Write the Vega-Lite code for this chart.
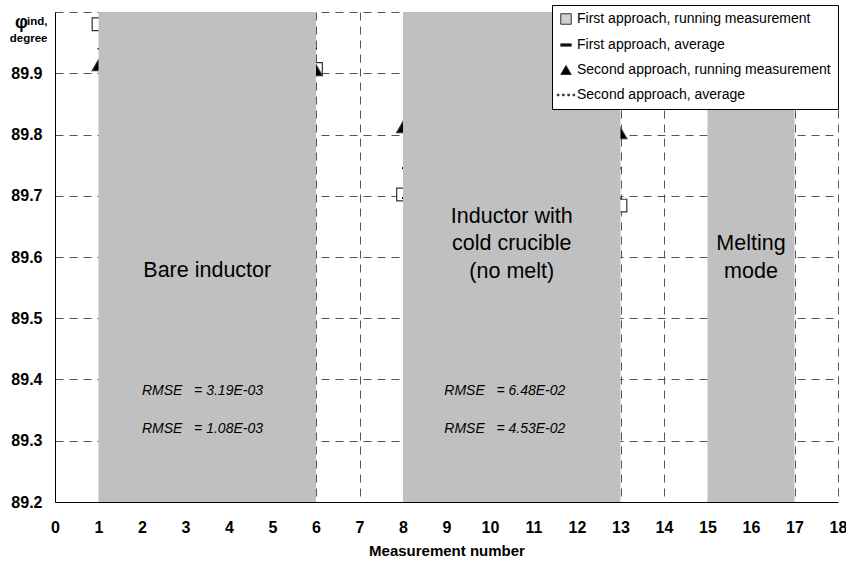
{
  "$schema": "https://vega.github.io/schema/vega-lite/v6.json",
  "width": 783,
  "height": 490,
  "autosize": {"type": "none"},
  "padding": {"left": 55, "top": 12, "right": 8, "bottom": 61},
  "background": "white",
  "config": {
    "view": {"stroke": null},
    "font": "Liberation Sans",
    "legend": {
      "orient": "none",
      "legendX": 497,
      "legendY": -7,
      "title": null,
      "fillColor": "white",
      "strokeColor": "black",
      "padding": 7,
      "labelFont": "Liberation Sans",
      "labelFontSize": 14,
      "labelColor": "black",
      "labelLimit": 0,
      "rowPadding": 11,
      "labelOffset": 4,
      "symbolSize": 110,
      "symbolStrokeWidth": 1,
      "zindex": 2
    }
  },
  "title": {
    "text": "φ",
    "fontSize": 18,
    "fontWeight": "bold",
    "anchor": "start",
    "frame": "group",
    "offset": 0,
    "dx": -40,
    "dy": 27,
    "color": "black"
  },
  "datasets": {
    "running": [
      {"n": 1, "series": "First approach, running measurement", "phi": 89.98},
      {"n": 6, "series": "First approach, running measurement", "phi": 89.907},
      {"n": 8, "series": "First approach, running measurement", "phi": 89.702},
      {"n": 13, "series": "First approach, running measurement", "phi": 89.684},
      {"n": 1, "series": "Second approach, running measurement", "phi": 89.913},
      {"n": 6, "series": "Second approach, running measurement", "phi": 89.905},
      {"n": 8, "series": "Second approach, running measurement", "phi": 89.812},
      {"n": 13, "series": "Second approach, running measurement", "phi": 89.802}
    ],
    "averages": [
      {"n": 1, "seg": "F1", "kind": "First approach, average", "phi": 89.94},
      {"n": 6, "seg": "F1", "kind": "First approach, average", "phi": 89.94},
      {"n": 8, "seg": "F2", "kind": "First approach, average", "phi": 89.696},
      {"n": 13, "seg": "F2", "kind": "First approach, average", "phi": 89.696},
      {"n": 1, "seg": "S1", "kind": "Second approach, average", "phi": 89.908},
      {"n": 6, "seg": "S1", "kind": "Second approach, average", "phi": 89.908},
      {"n": 8, "seg": "S2", "kind": "Second approach, average", "phi": 89.745},
      {"n": 13, "seg": "S2", "kind": "Second approach, average", "phi": 89.745}
    ],
    "zones": [
      {"start": 1, "end": 6},
      {"start": 8, "end": 13},
      {"start": 15, "end": 17}
    ],
    "zoneLabels": [
      {"n": 3.5, "phi": 89.56, "label": "Bare inductor"},
      {"n": 10.5, "phi": 89.648, "label": "Inductor with\ncold crucible\n(no melt)"},
      {"n": 16, "phi": 89.603, "label": "Melting\nmode"}
    ],
    "rmse": [
      {"n": 2, "phi": 89.381, "label": "RMSE\u00a0\u00a0\u00a0= 3.19E-03"},
      {"n": 2, "phi": 89.319, "label": "RMSE\u00a0\u00a0\u00a0= 1.08E-03"},
      {"n": 8.95, "phi": 89.381, "label": "RMSE\u00a0\u00a0\u00a0= 6.48E-02"},
      {"n": 8.95, "phi": 89.319, "label": "RMSE\u00a0\u00a0\u00a0= 4.53E-02"}
    ]
  },
  "layer": [
    {
      "data": {"name": "running"},
      "mark": {"type": "point", "filled": true, "size": 160, "stroke": "#333333", "strokeWidth": 1.2, "opacity": 1},
      "encoding": {
        "x": {
          "field": "n",
          "type": "quantitative",
          "scale": {"domain": [0, 18], "nice": false, "zero": false},
          "axis": {
            "values": [0, 1, 2, 3, 4, 5, 6, 7, 8, 9, 10, 11, 12, 13, 14, 15, 16, 17, 18],
            "title": "Measurement number",
            "titleFontSize": 15,
            "titleFontWeight": "bold",
            "titleColor": "black",
            "titleY": 53,
            "titleBaseline": "alphabetic",
            "labelFontSize": 16,
            "labelFontWeight": "bold",
            "labelColor": "black",
            "labelPadding": 17,
            "labelFlush": false,
            "labelOverlap": false,
            "ticks": false,
            "domainColor": "black",
            "domainWidth": 1,
            "grid": true,
            "gridColor": "#555555",
            "gridDash": [8, 6],
            "gridWidth": 1
          }
        },
        "y": {
          "field": "phi",
          "type": "quantitative",
          "scale": {"domain": [89.2, 90.0], "nice": false, "zero": false},
          "axis": {
            "values": [89.2, 89.3, 89.4, 89.5, 89.6, 89.7, 89.8, 89.9, 90.0],
            "labelExpr": "datum.value > 89.95 ? '' : format(datum.value, '.1f')",
            "labelFontSize": 16,
            "labelFontWeight": "bold",
            "labelColor": "black",
            "labelPadding": 13,
            "labelFlush": false,
            "ticks": false,
            "domainColor": "black",
            "domainWidth": 1,
            "grid": true,
            "gridColor": "#555555",
            "gridDash": [8, 6],
            "gridWidth": 1,
            "title": ["ind,", "degree"],
            "titleAngle": 0,
            "titleAlign": "right",
            "titleBaseline": "alphabetic",
            "titleX": -8,
            "titleY": 12,
            "titleFontSize": 11.5,
            "titleFontWeight": "bold",
            "titleColor": "black",
            "titleLineHeight": 17
          }
        },
        "shape": {
          "field": "series",
          "type": "nominal",
          "scale": {
            "domain": [
              "First approach, running measurement",
              "First approach, average",
              "Second approach, running measurement",
              "Second approach, average"
            ],
            "range": [
              "square",
              "M-1,-0.22H1V0.22H-1Z",
              "triangle-up",
              "M-1.65,-0.15h0.3v0.3h-0.3Z M-0.65,-0.15h0.3v0.3h-0.3Z M0.35,-0.15h0.3v0.3h-0.3Z M1.35,-0.15h0.3v0.3h-0.3Z"
            ]
          }
        },
        "fill": {
          "field": "series",
          "type": "nominal",
          "scale": {
            "domain": [
              "First approach, running measurement",
              "First approach, average",
              "Second approach, running measurement",
              "Second approach, average"
            ],
            "range": ["#d0d0d0", "black", "black", "black"]
          },
          "condition": {"test": "datum.series === 'First approach, running measurement'", "value": "white"}
        }
      }
    },
    {
      "data": {"name": "averages"},
      "mark": {"type": "line", "color": "black", "strokeWidth": 2.2, "strokeCap": "round"},
      "encoding": {
        "x": {"field": "n", "type": "quantitative"},
        "y": {"field": "phi", "type": "quantitative"},
        "detail": {"field": "seg"},
        "strokeDash": {
          "field": "kind",
          "type": "nominal",
          "scale": {"domain": ["First approach, average", "Second approach, average"], "range": [[1, 0], [2, 3]]},
          "legend": null
        }
      }
    },
    {
      "data": {"name": "zones"},
      "mark": {"type": "rect", "color": "#c0c0c0", "opacity": 1},
      "encoding": {
        "x": {"field": "start", "type": "quantitative"},
        "x2": {"field": "end"},
        "y": {"datum": 89.2},
        "y2": {"datum": 90.0}
      }
    },
    {
      "data": {"name": "zoneLabels"},
      "mark": {"type": "text", "fontSize": 21.5, "font": "Liberation Sans", "color": "black", "align": "center", "baseline": "bottom", "lineBreak": "\n", "lineHeight": 27.5},
      "encoding": {
        "x": {"field": "n", "type": "quantitative"},
        "y": {"field": "phi", "type": "quantitative"},
        "text": {"field": "label"}
      }
    },
    {
      "data": {"name": "rmse"},
      "mark": {"type": "text", "fontSize": 14, "fontStyle": "italic", "font": "Liberation Sans", "color": "black", "align": "left", "baseline": "middle"},
      "encoding": {
        "x": {"field": "n", "type": "quantitative"},
        "y": {"field": "phi", "type": "quantitative"},
        "text": {"field": "label"}
      }
    },
    {
      "mark": {"type": "rule", "color": "#808080", "strokeWidth": 1},
      "encoding": {"x": {"datum": 18}}
    }
  ]
}
